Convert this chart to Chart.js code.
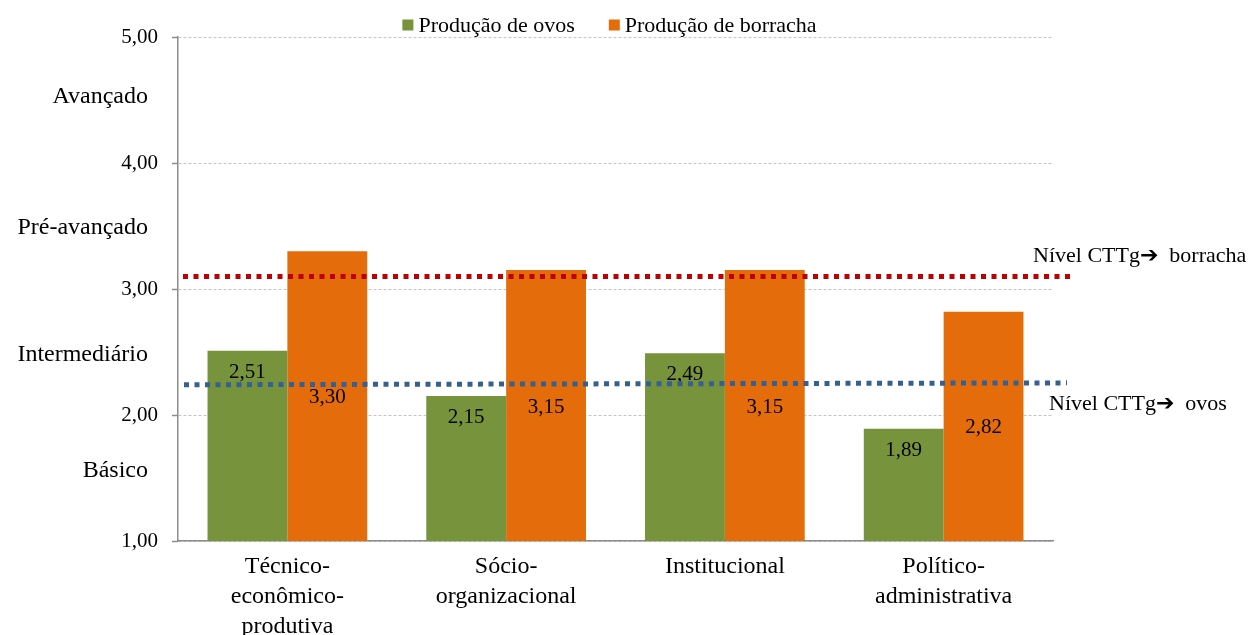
<!DOCTYPE html>
<html><head><meta charset="utf-8">
<script src="https://cdn.jsdelivr.net/npm/chart.js@4/dist/chart.umd.min.js"></script>
<style>html,body{margin:0;padding:0;background:#fff;}#wrap{width:1249px;height:635px;position:relative;}</style>
</head><body><div id="wrap"><canvas id="c" width="1249" height="635"></canvas></div>
<script>
const categories = [['Técnico-','econômico-','produtiva'], ['Sócio-','organizacional'], 'Institucional', ['Político-','administrativa']];
const seriesNames = ['Produção de ovos', 'Produção de borracha'];
const ovos = [2.51, 2.15, 2.49, 1.89];
const borracha = [3.30, 3.15, 3.15, 2.82];
const yMin = 1, yMax = 5, yStep = 1;
const levelNames = ['Avançado', 'Pré-avançado', 'Intermediário', 'Básico'];
const levelValues = [4.54, 3.50, 2.49, 1.57];
const nivelBorracha = [3.10, 3.10];
const nivelOvos = [2.24, 2.255];
const nivelLabels = ['Nível CTTg\u2794\u2002borracha', 'Nível CTTg\u2794\u2002ovos'];

const COLORS = { ovos: '#77933C', borracha: '#E46C0A', red: '#C00000', blue: '#376092', axis: '#8c8c8c', grid: '#c4c4c4' };
const SERIF = "'Liberation Serif', 'Times New Roman', serif";
const fmt = v => v.toFixed(2).replace('.', ',');

const decor = {
  id: 'decor',
  afterDatasetsDraw(chart) {
    const ctx = chart.ctx, ca = chart.chartArea, y = chart.scales.y;
    const basePx = y.getPixelForValue(yMin);
    ctx.save();
    // data labels
    ctx.fillStyle = '#000';
    ctx.textAlign = 'center';
    ctx.textBaseline = 'alphabetic';
    ctx.font = '21px ' + SERIF;
    chart.getDatasetMeta(0).data.forEach((bar, i) => {
      ctx.fillText(fmt(ovos[i]), bar.x, bar.y + 20 + 7);
    });
    chart.getDatasetMeta(1).data.forEach((bar, i) => {
      ctx.fillText(fmt(borracha[i]), bar.x, (bar.y + basePx) / 2 + 7);
    });
    // dotted level lines
    const drawDots = (vals, color, x0, x1) => {
      ctx.beginPath();
      ctx.strokeStyle = color;
      ctx.lineWidth = 5;
      ctx.setLineDash([5, 5.5]);
      ctx.moveTo(x0, y.getPixelForValue(vals[0]));
      ctx.lineTo(x1, y.getPixelForValue(vals[1]));
      ctx.stroke();
    };
    drawDots(nivelBorracha, COLORS.red, ca.left + 5, ca.right + 19);
    drawDots(nivelOvos, COLORS.blue, ca.left + 6, ca.right + 14);
    ctx.setLineDash([]);
    // labels for level lines
    ctx.textAlign = 'left';
    ctx.font = "22px 'Liberation Serif', 'DejaVu Sans', serif";
    ctx.fillStyle = '#000';
    ctx.fillText(nivelLabels[0], ca.right - 20, y.getPixelForValue(nivelBorracha[1]) - 14.5);
    ctx.fillText(nivelLabels[1], ca.right - 4, y.getPixelForValue(nivelOvos[1]) + 27.5);
    // level names on the left
    ctx.textAlign = 'right';
    ctx.font = '24px ' + SERIF;
    levelNames.forEach((n, i) => {
      ctx.fillText(n, ca.left - 30, y.getPixelForValue(levelValues[i]) + 8);
    });
    // legend
    ctx.font = '22px ' + SERIF;
    ctx.textAlign = 'left';
    const w0 = ctx.measureText(seriesNames[0]).width, w1 = ctx.measureText(seriesNames[1]).width;
    const box = 11, gapT = 5, gapI = 34;
    const total = box + gapT + w0 + gapI + box + gapT + w1;
    let x = (ca.left + ca.right) / 2 - 6 - total / 2;
    const cy = 25;
    [[COLORS.ovos, seriesNames[0], w0], [COLORS.borracha, seriesNames[1], w1]].forEach(([c, t, w]) => {
      ctx.fillStyle = c;
      ctx.fillRect(x, cy - 5.5, box, box);
      ctx.fillStyle = '#000';
      ctx.fillText(t, x + box + gapT, cy + 7.3);
      x += box + gapT + w + gapI;
    });
    ctx.restore();
  }
};

new Chart(document.getElementById('c'), {
  type: 'bar',
  data: {
    labels: categories,
    datasets: [
      { label: seriesNames[0], data: ovos, backgroundColor: COLORS.ovos, borderWidth: 0, categoryPercentage: 0.73, barPercentage: 1.0 },
      { label: seriesNames[1], data: borracha, backgroundColor: COLORS.borracha, borderWidth: 0, categoryPercentage: 0.73, barPercentage: 1.0 }
    ]
  },
  options: {
    responsive: false,
    animation: false,
    devicePixelRatio: 1,
    layout: { padding: { left: 0, right: 196, top: 37, bottom: 0 } },
    plugins: { legend: { display: false }, tooltip: { enabled: false } },
    scales: {
      x: {
        offset: true,
        grid: { display: false, drawTicks: false },
        border: { display: true, color: COLORS.axis, width: 1.5 },
        ticks: { color: '#000', font: { family: SERIF, size: 24, lineHeight: 1.25 }, padding: 11, maxRotation: 0, autoSkip: false },
        afterFit: s => { s.height = 94; }
      },
      y: {
        min: yMin, max: yMax,
        ticks: { stepSize: yStep, color: '#000', font: { family: SERIF, size: 21 }, padding: 14, callback: v => fmt(v) },
        grid: { color: COLORS.grid, lineWidth: 1, tickColor: COLORS.axis, tickLength: 6, tickBorderDash: [], tickWidth: 1.5 },
        border: { display: true, color: COLORS.axis, width: 1.5, dash: [3, 2] },
        afterFit: s => { s.width = 178; }
      }
    }
  },
  plugins: [decor]
});
</script></body></html>
